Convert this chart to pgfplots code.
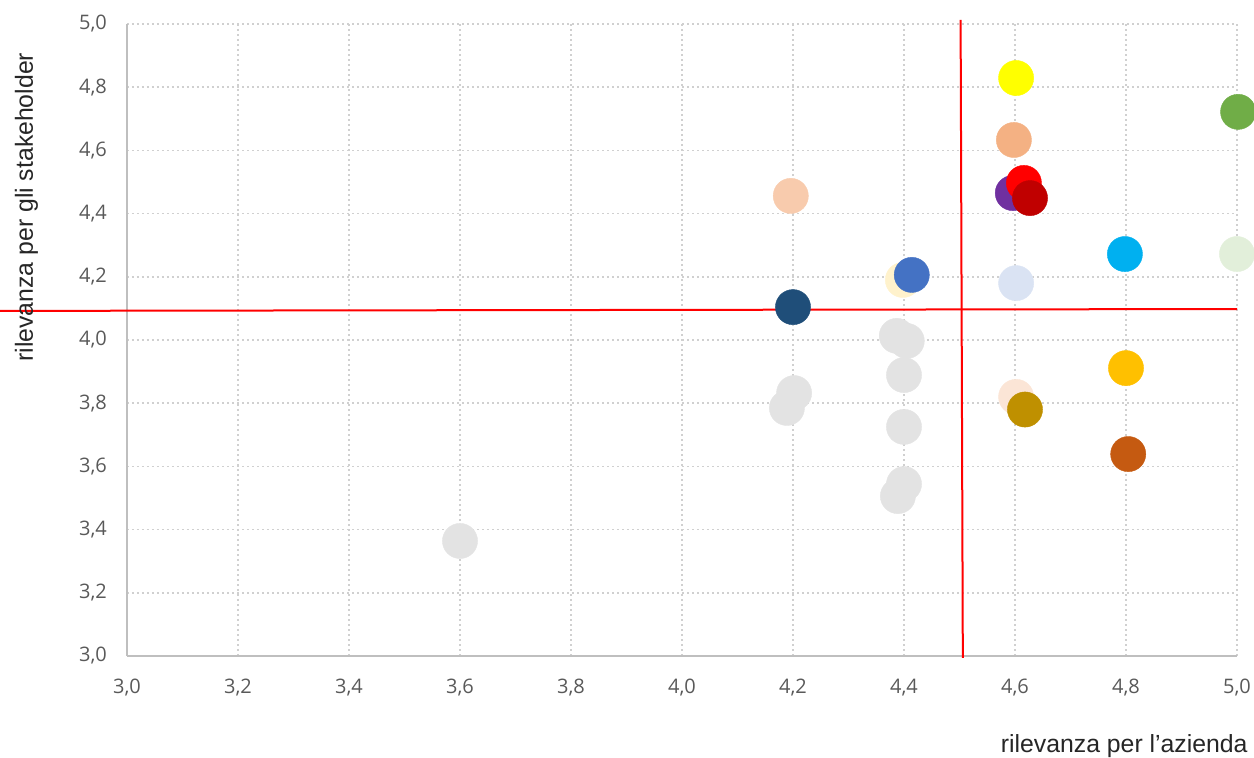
\documentclass[border=0pt]{standalone}
\usepackage{pgfplots}
\pgfplotsset{compat=1.18}
\usepackage{fontspec}
\setmainfont{Open Sans}
\newfontfamily\labelfont{Liberation Sans}

\definecolor{gridc}{HTML}{D0D0D0}
\definecolor{axisc}{HTML}{BFBFBF}
\definecolor{tickc}{HTML}{595959}
\definecolor{c1}{HTML}{FFFF00}
\definecolor{c2}{HTML}{70AD47}
\definecolor{c3}{HTML}{F4B183}
\definecolor{c4}{HTML}{7030A0}
\definecolor{c5}{HTML}{FF0000}
\definecolor{c6}{HTML}{C00000}
\definecolor{c7}{HTML}{F8CBAD}
\definecolor{c8}{HTML}{4472C4}
\definecolor{c9}{HTML}{FFF2CC}
\definecolor{c10}{HTML}{00B0F0}
\definecolor{c11}{HTML}{E2EFDA}
\definecolor{c12}{HTML}{DAE3F3}
\definecolor{c13}{HTML}{1F4E79}
\definecolor{c14}{HTML}{FFC000}
\definecolor{c15}{HTML}{FBE5D6}
\definecolor{c16}{HTML}{BF9000}
\definecolor{c17}{HTML}{C55A11}
\definecolor{greyp}{HTML}{E3E3E3}

\pgfplotsset{
  pt/.style={only marks, mark=*, color=#1, mark size=8.8pt, mark options={draw=#1, fill=#1, line width=0.2pt}},
}

\begin{document}
\begin{tikzpicture}
\begin{axis}[
  at={(0,0)}, anchor=south west,
  scale only axis,
  width=555pt, height=316pt,
  xmin=3, xmax=5, ymin=3, ymax=5,
  xtick={3,3.2,...,5.01},
  ytick={3,3.2,...,5.01},
  axis x line*=bottom,
  axis y line*=left,
  axis line style={draw=axisc, line width=0.75pt, -},
  major tick length=0pt,
  grid=major,
  major grid style={draw=gridc, line width=0.8pt, dash pattern=on 1pt off 1.5pt},
  clip=false,
  /pgf/number format/.cd, fixed, fixed zerofill, precision=1, use comma, assume math mode=true,
  /pgfplots/.cd,
  tick label style={font=\fontsize{10}{12}\selectfont, text=tickc},
  xticklabel style={yshift=-8pt},
  yticklabel style={xshift=-6.5pt},
]
% red quadrant lines
\addplot[red, line width=1pt] coordinates {(2.7712,4.092) (5.0,4.098)};
\addplot[red, line width=1pt] coordinates {(4.502,5.013) (4.506,2.994)};

% grey points
\addplot[pt=greyp] coordinates {
  (4.387,4.013) (4.405,3.997) (4.40,3.889) (4.40,3.725)
  (4.40,3.544) (4.389,3.506) (4.202,3.832) (4.189,3.785) (3.60,3.364)
};

\addplot[pt=c9]  coordinates {(4.398,4.19)};
\addplot[pt=c8]  coordinates {(4.414,4.206)};
\addplot[pt=c7]  coordinates {(4.196,4.456)};
\addplot[pt=c13] coordinates {(4.20,4.104)};
\addplot[pt=c1]  coordinates {(4.602,4.829)};
\addplot[pt=c2]  coordinates {(5.002,4.722)};
\addplot[pt=c3]  coordinates {(4.598,4.633)};
\addplot[pt=c4]  coordinates {(4.596,4.465)};
\addplot[pt=c5]  coordinates {(4.616,4.497)};
\addplot[pt=c6]  coordinates {(4.627,4.449)};
\addplot[pt=c10] coordinates {(4.798,4.272)};
\addplot[pt=c11] coordinates {(5.0,4.272)};
\addplot[pt=c12] coordinates {(4.602,4.18)};
\addplot[pt=c14] coordinates {(4.80,3.911)};
\addplot[pt=c15] coordinates {(4.602,3.82)};
\addplot[pt=c16] coordinates {(4.618,3.78)};
\addplot[pt=c17] coordinates {(4.804,3.639)};
\end{axis}
\node[anchor=base east, inner sep=0pt, font=\labelfont\fontsize{12.4}{14}\selectfont, text=black!85]
  at (560.5pt,-48.5pt) {rilevanza per l’azienda};
\node[anchor=base west, rotate=90, inner sep=0pt, font=\labelfont\fontsize{12.4}{14}\selectfont, text=black!85]
  at (-47pt,147pt) {rilevanza per gli stakeholder};
\pgfresetboundingbox
\path[use as bounding box] (-63.5pt,-51pt) rectangle (563.5pt,328pt);
\end{tikzpicture}
\end{document}
